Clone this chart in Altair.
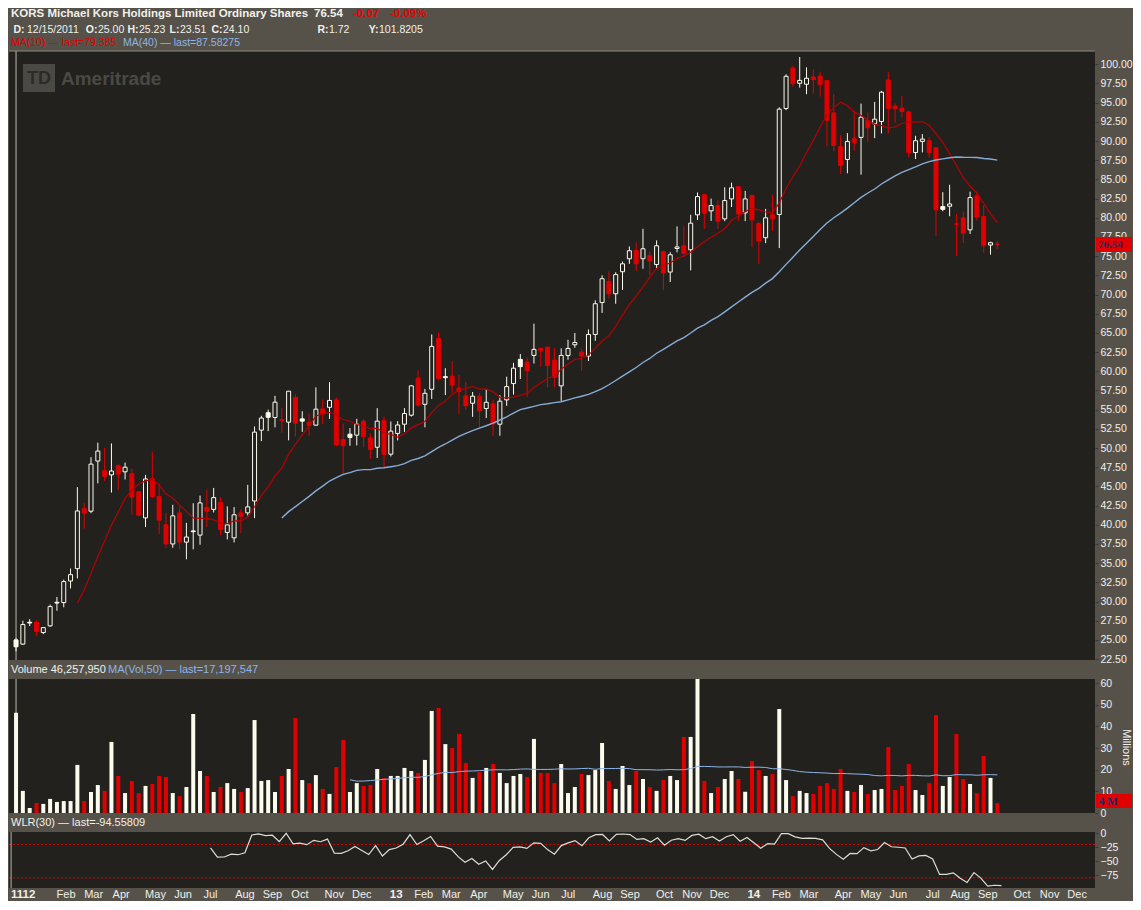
import altair as alt
import pandas as pd
import numpy as np

# ---------------- data (weekly bars, KORS, Dec 2011 - Sep 2014) ----------------
opens = [25.00, 24.45, 27.3, 27.3, 25.96, 26.83, 29.9, 29.86, 32.67, 34.28,
         42.1, 41.77, 48.3, 47.05, 46.5, 47.7, 46.9, 46.65, 44.3, 40.9,
         46.0, 43.67, 40.0, 37.5, 41.55, 37.74, 39.2, 38.65, 42.24, 42.0,
         42.9, 39.0, 38.3, 41.55, 41.55, 43.1, 52.33, 54.6, 53.98, 53.7,
         53.37, 56.6, 53.8, 53.37, 52.98, 55.1, 55.3, 56.27, 51.1, 51.8,
         51.68, 53.5, 51.33, 50.1, 53.6, 49.2, 51.9, 53.1, 54.28, 59.1,
         55.7, 57.65, 64.28, 59.3, 59.35, 57.8, 56.8, 55.84, 56.75, 55.14,
         55.75, 53.1, 56.27, 58.4, 61.55, 61.2, 62.07, 63.0, 63.15, 61.45,
         58.1, 62.06, 63.45, 62.5, 61.98, 64.8, 68.95, 71.7, 70.1, 72.97,
         74.66, 75.74, 74.66, 75.05, 73.9, 75.57, 72.93, 76.0, 76.35, 75.83,
         80.38, 83.02, 80.9, 81.6, 79.86, 82.46, 84.06, 80.64, 82.9, 79.25,
         77.4, 80.4, 80.43, 94.24, 99.5, 97.52, 97.4, 98.35, 98.48, 97.9,
         93.67, 89.26, 87.6, 90.3, 90.47, 92.68, 92.24, 92.55, 97.96, 94.54,
         94.28, 93.8, 88.5, 89.95, 90.04, 89.13, 81.46, 81.5, 79.2, 79.99,
         78.43, 82.85, 80.16, 76.45, 76.6]
highs = [25.23, 27.5, 27.7, 27.56, 26.6, 29.6, 30.6, 32.85, 34.3, 44.9,
         42.85, 48.8, 50.7, 50.0, 50.6, 47.85, 48.1, 47.3, 44.4, 46.5,
         49.5, 45.4, 41.55, 42.6, 42.4, 40.25, 42.8, 43.8, 44.6, 44.8,
         43.6, 42.4, 42.3, 42.07, 45.2, 52.8, 54.2, 55.0, 56.8, 55.2,
         57.4, 57.0, 54.8, 54.5, 57.9, 56.3, 58.6, 56.6, 53.2, 52.6,
         53.8, 53.8, 51.9, 55.2, 54.1, 53.45, 53.5, 55.2, 58.2, 60.1,
         57.7, 64.8, 65.06, 60.4, 61.3, 59.5, 58.6, 57.3, 57.2, 57.6,
         56.3, 56.9, 59.3, 61.1, 62.25, 61.8, 66.2, 63.0, 63.15, 63.0,
         62.98, 64.1, 65.0, 62.97, 65.44, 69.25, 72.5, 73.0, 72.9, 74.3,
         76.27, 76.79, 78.56, 75.6, 77.05, 75.74, 75.5, 78.87, 78.87, 80.4,
         83.3, 83.1, 82.5, 82.24, 83.97, 84.58, 84.06, 83.5, 83.0, 79.4,
         81.16, 83.0, 94.4, 98.7, 99.78, 100.95, 99.6, 99.35, 99.04, 97.9,
         96.1, 90.77, 91.03, 93.93, 94.88, 93.72, 95.1, 96.53, 99.0, 94.9,
         95.88, 93.93, 90.68, 90.9, 90.5, 89.13, 83.33, 84.3, 80.5, 80.8,
         83.4, 83.33, 81.63, 76.88, 77.0]
lows = [23.51, 24.35, 26.8, 25.53, 25.75, 26.7, 28.8, 29.25, 31.7, 33.0,
        39.5, 41.5, 45.4, 45.7, 44.2, 44.5, 45.9, 41.3, 41.1, 39.7,
        43.45, 38.8, 37.0, 37.0, 36.8, 35.5, 36.8, 37.4, 39.7, 41.6,
        38.65, 38.1, 37.7, 38.9, 41.2, 40.86, 50.9, 52.2, 52.7, 52.0,
        51.0, 51.5, 52.1, 51.6, 52.9, 53.1, 53.8, 50.2, 46.7, 50.3,
        50.34, 50.1, 48.6, 48.7, 47.5, 48.9, 51.0, 52.1, 54.1, 55.4,
        52.7, 56.4, 58.8, 56.9, 57.2, 54.45, 54.97, 54.06, 52.6, 53.9,
        51.6, 51.6, 55.5, 56.96, 59.0, 56.7, 61.0, 60.6, 57.9, 57.9,
        56.14, 61.5, 63.06, 60.07, 61.33, 63.97, 67.6, 69.5, 68.8, 70.6,
        74.0, 73.06, 73.36, 72.5, 73.36, 70.55, 71.63, 75.5, 74.9, 73.15,
        79.7, 78.56, 79.6, 78.56, 79.56, 81.4, 79.6, 79.56, 76.18, 74.0,
        76.7, 78.3, 76.05, 94.02, 97.1, 96.96, 96.1, 96.18, 95.8, 89.3,
        88.65, 85.7, 85.8, 88.74, 85.62, 89.9, 90.38, 90.99, 90.99, 92.4,
        93.1, 87.87, 87.65, 88.52, 87.87, 77.61, 80.86, 80.2, 75.0, 76.7,
        77.9, 79.64, 75.45, 75.19, 75.96]
closes = [24.10, 27.0, 27.2, 26.1, 26.6, 29.34, 29.8, 32.6, 33.5, 41.8,
          41.5, 47.9, 49.6, 46.3, 47.0, 46.6, 47.5, 43.6, 41.25, 45.97,
          43.67, 40.6, 37.5, 41.16, 37.74, 38.4, 39.1, 42.85, 41.77, 43.54,
          39.4, 39.99, 41.3, 41.1, 42.33, 52.07, 53.9, 54.0, 55.97, 53.6,
          57.4, 53.24, 53.5, 52.93, 55.06, 54.5, 56.2, 50.4, 50.3, 51.38,
          53.1, 51.5, 49.8, 53.5, 49.17, 52.2, 53.0, 54.5, 58.1, 55.6,
          57.13, 63.24, 59.04, 59.17, 58.2, 57.35, 55.5, 56.75, 54.84, 55.96,
          53.15, 56.1, 58.0, 60.4, 60.6, 60.08, 62.85, 62.68, 60.73, 59.2,
          62.07, 62.97, 63.75, 62.0, 64.8, 68.8, 72.06, 70.1, 72.6, 74.0,
          75.7, 74.0, 75.96, 74.36, 76.35, 72.8, 75.18, 76.2, 75.36, 79.3,
          82.76, 80.6, 81.6, 79.56, 82.24, 83.9, 80.5, 82.46, 79.73, 76.96,
          79.99, 79.86, 94.15, 98.43, 97.48, 97.9, 98.18, 98.0, 97.35, 92.72,
          89.43, 86.83, 89.95, 89.8, 93.1, 91.73, 92.85, 96.36, 94.24, 94.2,
          93.84, 88.5, 90.04, 90.25, 88.5, 81.03, 81.1, 81.8, 79.17, 78.0,
          82.63, 80.08, 76.36, 76.75, 76.54]
volumes = [46.26, 10.2, 2.3, 4.6, 4.2, 6.5, 5.1, 5.5, 5.5, 22.2,
           5.5, 9.7, 12.9, 10.2, 32.8, 17.1, 9.2, 14.8, 9.2, 12.5,
           13.4, 17.1, 16.6, 9.2, 7.8, 12.0, 45.7, 19.4, 17.1, 9.7,
           12.0, 13.8, 11.1, 9.7, 11.5, 42.9, 14.8, 15.2, 9.7, 17.1,
           20.3, 43.8, 15.2, 13.8, 17.5, 11.1, 8.8, 21.2, 33.7, 9.7,
           13.8, 12.5, 12.9, 20.3, 16.2, 17.1, 17.1, 20.8, 19.4, 18.5,
           24.5, 47.1, 48.5, 31.8, 30.0, 36.5, 23.1, 16.2, 18.9, 20.8,
           22.6, 18.5, 13.8, 17.1, 18.0, 16.6, 34.2, 18.5, 18.5, 13.8,
           22.6, 9.2, 12.0, 18.0, 17.5, 19.8, 32.3, 14.8, 11.1, 21.7,
           12.9, 19.4, 15.7, 12.0, 10.2, 15.2, 17.1, 15.2, 35.1, 35.1,
           62.0, 14.8, 9.2, 12.0, 15.7, 19.4, 15.7, 9.8, 24.0, 19.8,
           17.1, 18.0, 48.0, 15.2, 7.8, 10.2, 9.2, 8.8, 12.5, 13.8,
           11.1, 20.3, 10.2, 9.7, 12.9, 8.8, 10.6, 11.1, 30.5, 10.6,
           12.5, 22.6, 10.6, 8.3, 13.8, 45.2, 12.5, 16.6, 36.5, 15.7,
           13.4, 9.2, 26.3, 16.2, 4.6]  # millions of shares

first_week = "2011-12-12"
month_keys = ["2011-12", "2012-02", "2012-03", "2012-04", "2012-05", "2012-06",
              "2012-07", "2012-08", "2012-09", "2012-10", "2012-11", "2012-12",
              "2013-01", "2013-02", "2013-03", "2013-04", "2013-05", "2013-06",
              "2013-07", "2013-08", "2013-09", "2013-10", "2013-11", "2013-12",
              "2014-01", "2014-02", "2014-03", "2014-04", "2014-05", "2014-06",
              "2014-07", "2014-08", "2014-09", "2014-10", "2014-11", "2014-12"]
month_texts = ["1112", "Feb", "Mar", "Apr", "May", "Jun", "Jul", "Aug", "Sep", "Oct", "Nov", "Dec",
               "13", "Feb", "Mar", "Apr", "May", "Jun", "Jul", "Aug", "Sep", "Oct", "Nov", "Dec",
               "14", "Feb", "Mar", "Apr", "May", "Jun", "Jul", "Aug", "Sep", "Oct", "Nov", "Dec"]
price_ticks = [22.5 + 2.5 * k for k in range(32)]
volume_ticks = [0, 10, 20, 30, 40, 50, 60]
wlr_ticks = [0, -25, -50, -75]
wlr_levels = [-20, -80]

# ---------------- styling ----------------
BG = "#22211e"
PANEL = "#56524a"
UP = "#fbfbee"
DOWN = "#e00000"
TXT = "#f0f0ea"
BLUE = "#8db4e6"
FONT = "Liberation Sans"
W = 1086
HP, HV, HW = 609, 134, 56

# ---------------- derived table ----------------
N = len(closes)
df = pd.DataFrame({"i": np.arange(N), "open": opens, "high": highs, "low": lows,
                   "close": closes, "vol": volumes})
prev = df["close"].shift(1).fillna(df["close"])
up = df["close"] >= prev
df["col"] = np.where(up, UP, DOWN)
df["fillc"] = np.where(df["close"] < df["open"], df["col"], BG)
df["ma10"] = df["close"].rolling(10).mean()
df["ma40"] = df["close"].rolling(40).mean()
df["vma50"] = df["vol"].rolling(50).mean()
hh = df["high"].rolling(30).max()
ll = df["low"].rolling(30).min()
df["wlr"] = (hh - df["close"]) / (hh - ll) * -100

mondays = pd.date_range(first_week, periods=170, freq="7D")
pos = []
for key in month_keys:
    yy, mm = map(int, key.split("-"))
    pos.append(next(k for k, d in enumerate(mondays) if d.year == yy and d.month == mm))
kinds = ["first"] + ["year" if t.isdigit() else "month" for t in month_texts[1:]]
months_df = pd.DataFrame({"pos": pos, "label": month_texts, "kind": kinds})

ONE = pd.DataFrame({"k": [0]})
XS = alt.Scale(domain=[-0.3, 157.6], nice=False, zero=False)


def X():
    return alt.X("i:Q", scale=XS, axis=None)


def txt(s, x, y, color=TXT, size=10.5, weight="normal", align="left", font=FONT):
    return alt.Chart(ONE).mark_text(text=s, align=align, baseline="middle", color=color,
                                    fontSize=size, fontWeight=weight, font=font).encode(
        x=alt.value(x), y=alt.value(y))


base = alt.Chart(df)
cursor = alt.Chart(df.iloc[[0]]).mark_rule(color="#b9b9b1", strokeWidth=1).encode(x=X())

# ---------------- price panel ----------------
PS = alt.Scale(domain=[22.38, 101.73], nice=False, zero=False)
PA = alt.Axis(orient="right", values=price_ticks, format=".2f", title=None)


def PY(field=None, datum=None):
    if datum is not None:
        return alt.Y(datum=datum, scale=PS, axis=PA)
    return alt.Y(field, type="quantitative", scale=PS, axis=PA)


wicks = base.mark_rule(strokeWidth=1).encode(
    x=X(), y=PY("low"), y2="high:Q", color=alt.Color("col:N", scale=None))
bodies = base.mark_bar(size=4, strokeWidth=1).encode(
    x=X(), y=PY("open"), y2="close:Q",
    fill=alt.Fill("fillc:N", scale=None), stroke=alt.Stroke("col:N", scale=None))
ma10 = base.mark_line(color="#b80000", strokeWidth=1.2).encode(x=X(), y=PY("ma10"))
ma40 = base.mark_line(color="#86acd8", strokeWidth=1.4).encode(x=X(), y=PY("ma40"))
last_box = alt.Chart(ONE).mark_rect(color=DOWN).encode(
    x=alt.value(W + 1), x2=alt.value(W + 37), y=PY(datum=77.5), y2=alt.Y2(datum=75.55))
last_txt = alt.Chart(ONE).mark_text(text="76.54", align="left", baseline="middle", color="#1e2a60",
                                     fontSize=11, fontWeight="bold", font="Liberation Serif").encode(
    x=alt.value(W + 3), y=PY(datum=76.45))
top_line = alt.Chart(ONE).mark_rule(color="#8e8a82").encode(
    x=alt.value(0), x2=alt.value(W), y=alt.value(0))
wm_box = alt.Chart(ONE).mark_rect(color="#4b4944").encode(
    x=alt.value(14), x2=alt.value(46), y=alt.value(13), y2=alt.value(41))
wm_td = txt("TD", 30, 27.5, color="#2c2b28", size=18, weight="bold", align="center")
wm_name = txt("Ameritrade", 52, 27.5, color="#4b4944", size=19, weight="bold")

L1, L2, L3 = -37, -21.5, -8.5
S2 = 10.5
header = [
    txt("KORS Michael Kors Holdings Limited Ordinary Shares", 2, L1, weight="bold", size=11.5),
    txt("76.54", 305, L1, weight="bold", size=11.5),
    txt("-0.07", 344, L1, color="#e80000", weight="bold", size=11.5),
    txt("-0.09%", 381, L1, color="#e80000", weight="bold", size=11.5),
    txt("D:", 15.5, L2, weight="bold", size=S2, align="right"), txt("12/15/2011", 18, L2, size=S2),
    txt("O:", 88.5, L2, weight="bold", size=S2, align="right"), txt("25.00", 89, L2, size=S2),
    txt("H:", 129.5, L2, weight="bold", size=S2, align="right"), txt("25.23", 130, L2, size=S2),
    txt("L:", 170.5, L2, weight="bold", size=S2, align="right"), txt("23.51", 171, L2, size=S2),
    txt("C:", 213.5, L2, weight="bold", size=S2, align="right"), txt("24.10", 214, L2, size=S2),
    txt("R:", 319.5, L2, weight="bold", size=S2, align="right"), txt("1.72", 320, L2, size=S2),
    txt("Y:", 369.5, L2, weight="bold", size=S2, align="right"), txt("101.8205", 370, L2, size=S2),
    txt("MA(10) — last=79.385", 2, L3, color="#e00000", size=10.5),
    txt("MA(40) — last=87.58275", 114, L3, color=BLUE, size=10.5),
]

price = alt.layer(cursor, wm_box, wm_td, wm_name, wicks, bodies, ma10, ma40,
                  last_box, last_txt, top_line, *header).properties(width=W, height=HP)

# ---------------- volume panel ----------------
VS = alt.Scale(domain=[0, 61.85], nice=False, zero=False)
VA = alt.Axis(orient="right", values=volume_ticks, format="d", title="Millions",
              titleAngle=90, titleX=30, titleY=68, titleColor=TXT, titleFont=FONT,
              titleFontSize=11, titleFontWeight="normal", titleBaseline="middle", titleAlign="center")


def VY(field=None, datum=None):
    if datum is not None:
        return alt.Y(datum=datum, scale=VS, axis=VA)
    return alt.Y(field, type="quantitative", scale=VS, axis=VA, stack=None)


vbars = base.mark_bar(size=4, clip=True).encode(
    x=X(), y=VY("vol"), y2=alt.Y2(datum=0), color=alt.Color("col:N", scale=None))
vma = base.mark_line(color=BLUE, strokeWidth=1).encode(x=X(), y=VY("vma50"))
v_box = alt.Chart(ONE).mark_rect(color=DOWN).encode(
    x=alt.value(W + 1), x2=alt.value(W + 37), y=VY(datum=8.8), y2=alt.Y2(datum=2.3))
v_txt = alt.Chart(ONE).mark_text(text="4 M", align="left", baseline="middle", color="#1e2a60",
                                  fontSize=11, fontWeight="bold", font="Liberation Serif").encode(
    x=alt.value(W + 4), y=VY(datum=5.2))
vol_head = [txt("Volume 46,257,950", 2, -9.5, size=11),
            txt("MA(Vol,50) — last=17,197,547", 99, -9.5, color=BLUE, size=11)]
volume = alt.layer(cursor, vbars, vma, v_box, v_txt, *vol_head).properties(width=W, height=HV)

# ---------------- WLR panel ----------------
WS = alt.Scale(domain=[-98.2, 2.3], nice=False, zero=False)
WA = alt.Axis(orient="right", values=wlr_ticks, format="d", title=None)
lv = alt.Chart(pd.DataFrame({"lvl": wlr_levels})).mark_rule(
    color="#e00000", strokeDash=[2, 2], strokeWidth=1).encode(
    y=alt.Y("lvl:Q", scale=WS, axis=WA))
wl = base.mark_line(color="#dcdcd4", strokeWidth=1.2).encode(
    x=X(), y=alt.Y("wlr:Q", scale=WS, axis=WA))
mlabels = []
for kind, align, weight, size in [("first", "left", "bold", 11.5), ("year", "center", "bold", 11.5),
                                  ("month", "center", "normal", 11)]:
    mlabels.append(alt.Chart(months_df).transform_filter(alt.datum.kind == kind).mark_text(
        align=align, baseline="middle", fontWeight=weight, fontSize=size, font=FONT, color=TXT).encode(
        x=alt.X("pos:Q", scale=XS, axis=None), y=alt.value(HW + 7), text="label:N"))
wlr_head = [txt("WLR(30) — last=-94.55809", 2, -9, size=11)]
wlr = alt.layer(lv, cursor, wl, *mlabels, *wlr_head).properties(width=W, height=HW)

chart = alt.vconcat(price, volume, wlr, spacing=19, bounds="flush").properties(
    padding={"left": 0, "top": 0, "right": 0, "bottom": 0}
).configure(background=PANEL).configure_view(fill=BG, stroke=None).configure_axis(
    labelFont=FONT, labelFontSize=10.5, labelColor=TXT, tickColor="#3a3732", tickSize=3,
    labelPadding=2, domain=False, grid=False, labelOverlap=False)

chart.save("out.html", embed_options={"renderer": "svg", "actions": False})
